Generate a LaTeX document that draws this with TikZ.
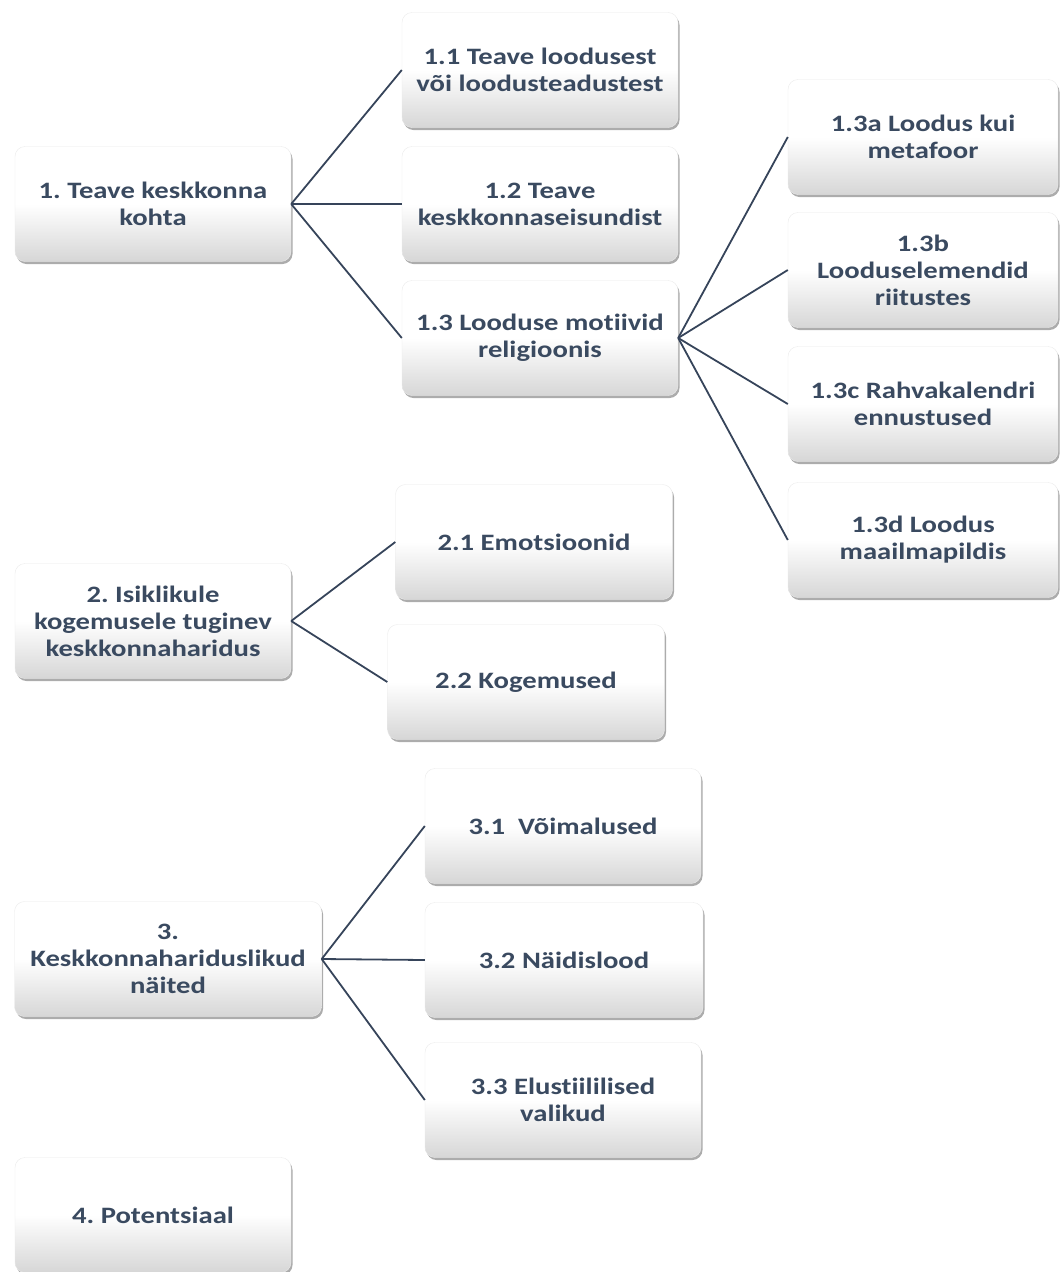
\documentclass[tikz,border=0pt]{standalone}
\usepackage{fontspec}
\setmainfont{Carlito}[FakeStretch=1.22, Ligatures=NoCommon]
\frenchspacing
\usetikzlibrary{shadows}
\definecolor{txtslate}{HTML}{3A4A60}
\definecolor{lineslate}{HTML}{36445A}
\tikzset{
  topic/.style = {rectangle, rounded corners=10pt, draw=black!8,
                  top color=white, bottom color=black!16, middle color=white,
                  drop shadow={shadow xshift=1.5pt, shadow yshift=-2.5pt, fill=black!50, opacity=0.65},
                  minimum width=#1, minimum height=115pt, inner sep=4pt,
                  align=center, text=txtslate,
                  font=\fontsize{23.5}{27}\selectfont\bfseries},
  topic/.default = 276pt,
  branch/.style = {draw=lineslate, line width=1.8pt}
}
\begin{document}
\begin{tikzpicture}[x=1pt, y=-1pt]
	\useasboundingbox (0,0) rectangle (1060,1272);
	
	% Main topics
	\node[topic] (t1) at (153,204) {1. Teave keskkonna\\kohta};
	\node[topic] (t2) at (153,621) {2. Isiklikule\\kogemusele tuginev\\keskkonnaharidus};
	\node[topic=307pt] (t3) at (168,959) {3.\\Keskkonnahariduslikud\\näited};
	\node[topic] (t4) at (153,1215) {4. Potentsiaal};
	
	% Subtopics 1
	\node[topic] (t11) at (540,70) {1.1 Teave loodusest\\või loodusteadustest};
	\node[topic] (t12) at (540,204) {1.2 Teave\\keskkonnaseisundist};
	\node[topic] (t13) at (540,338) {1.3 Looduse motiivid\\religioonis};
	
	% Subtopics 1.3
	\node[topic=270pt] (t13a) at (923,137) {1.3a Loodus kui\\metafoor};
	\node[topic=270pt] (t13b) at (923,270) {1.3b\\Looduselemendid\\riitustes};
	\node[topic=270pt] (t13c) at (923,404) {1.3c Rahvakalendri\\ennustused};
	\node[topic=270pt] (t13d) at (923,540) {1.3d Loodus\\maailmapildis};
	
	% Subtopics 2
	\node[topic=277pt] (t21) at (534,542) {2.1 Emotsioonid};
	\node[topic=277pt] (t22) at (526,682) {2.2 Kogemused};
	
	% Subtopics 3
	\node[topic] (t31) at (563,826) {3.1~ Võimalused};
	\node[topic=278pt] (t32) at (564,960) {3.2 Näidislood};
	\node[topic] (t33) at (563,1100) {3.3 Elustiililised\\valikud};
	
	% Branches
	\draw[branch] (t1.east) -- (t11.west);
	\draw[branch] (t1.east) -- (t12.west);
	\draw[branch] (t1.east) -- (t13.west);
	\draw[branch] (t13.east) -- (t13a.west);
	\draw[branch] (t13.east) -- (t13b.west);
	\draw[branch] (t13.east) -- (t13c.west);
	\draw[branch] (t13.east) -- (t13d.west);
	\draw[branch] (t2.east) -- (t21.west);
	\draw[branch] (t2.east) -- (t22.west);
	\draw[branch] (t3.east) -- (t31.west);
	\draw[branch] (t3.east) -- (t32.west);
	\draw[branch] (t3.east) -- (t33.west);

\end{tikzpicture}
\end{document}
